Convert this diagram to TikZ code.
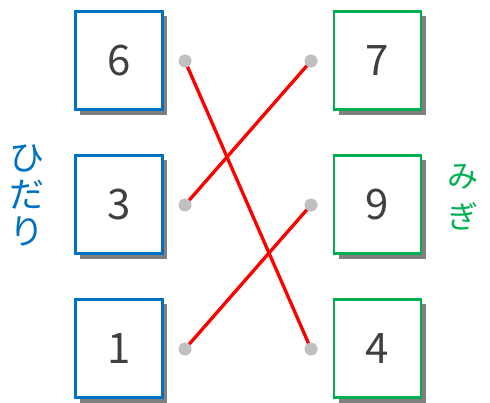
\documentclass[tikz,border=0pt]{standalone}
\usepackage{fontspec}
\newfontfamily\jp{Noto Sans CJK JP}
\usetikzlibrary{shadows,backgrounds}
\definecolor{lblue}{HTML}{0070C0}
\definecolor{rgreen}{HTML}{00B050}
\definecolor{shadowgray}{HTML}{808080}
\definecolor{dotgray}{HTML}{C0C0C0}
\definecolor{textgray}{HTML}{404040}
\begin{document}
\begin{tikzpicture}[x=1pt,y=-1pt,
  box/.style={draw, line width=2.6pt, minimum width=87.1pt, minimum height=98.5pt,
    fill=white, inner sep=0pt,
    drop shadow={shadow xshift=5pt,shadow yshift=-5pt,fill=shadowgray,opacity=1},
    font=\jp\fontsize{42}{42}\selectfont, text=textgray},
  lbox/.style={box, draw=lblue},
  rbox/.style={box, draw=rgreen},
  dot/.style={circle, fill=dotgray, minimum size=13pt, inner sep=0pt},
  redline/.style={draw=red, line width=3.3pt},
  side/.style={align=center, inner sep=0pt}]
\useasboundingbox (0,0) rectangle (490,403);
\node[lbox] (b6) at (118.8,60.5) {6};
\node[lbox] (b3) at (118.8,204.5) {3};
\node[lbox] (b1) at (118.8,348.5) {1};
\node[rbox] (b7) at (377.5,60.5) {7};
\node[rbox] (b9) at (377.5,204.5) {9};
\node[rbox] (b4) at (377.5,348.5) {4};
\node[dot] (d6) at (185,61) {};
\node[dot] (d3) at (185,205) {};
\node[dot] (d1) at (185,349) {};
\node[dot] (d7) at (311,61) {};
\node[dot] (d9) at (311,205) {};
\node[dot] (d4) at (311,349) {};
\begin{scope}[on background layer]
\draw[redline] (d6.center) -- (d4.center);
\draw[redline] (d3.center) -- (d7.center);
\draw[redline] (d1.center) -- (d9.center);
\end{scope}
\node[side, text=lblue, font=\jp\fontsize{35}{37}\selectfont] (left) at (27,195) {ひ\\だ\\り};
\node[side, text=rgreen, font=\jp\fontsize{31}{41}\selectfont] (right) at (463,197) {み\\ぎ};
\end{tikzpicture}
\end{document}
